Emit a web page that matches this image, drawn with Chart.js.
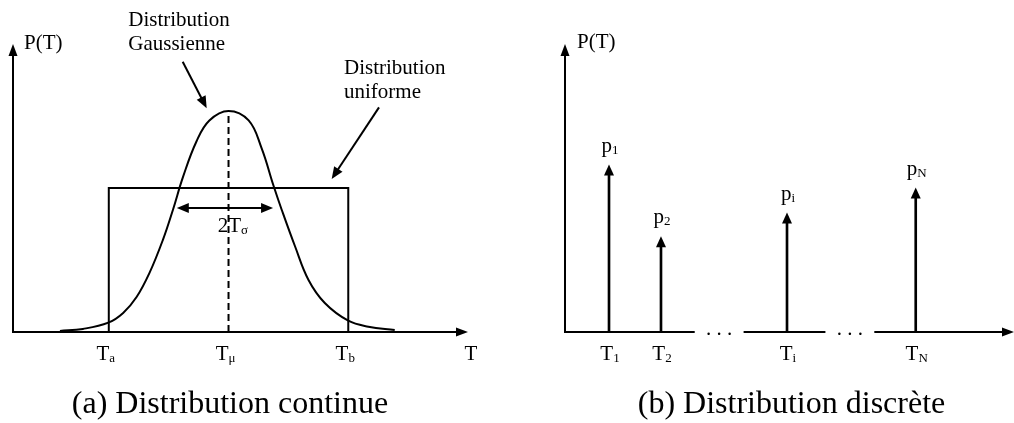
<!DOCTYPE html>
<html>
<head>
<meta charset="utf-8">
<script src="https://cdn.jsdelivr.net/npm/chart.js@4"></script>
<style>
  body { margin: 0; background: #fff; }
  #wrap { position: relative; width: 1014px; height: 423px; }
  canvas { position: absolute; top: 0; }
</style>
</head>
<body>
<div id="wrap">
  <canvas id="continuousChart" width="500" height="423" style="left:0"></canvas>
  <canvas id="discreteChart" width="514" height="423" style="left:500px"></canvas>
</div>
<script>
// (a) continuous distribution, T in units of T_sigma around T_mu
const gaussT = [-3.52, -3.04, -2.51, -2.20, -1.92, -1.65, -1.37, -1.16, -0.95, -0.67, -0.40, 0,
                0.42, 0.69, 0.94, 1.11, 1.39, 1.67, 2.01, 2.50, 2.92, 3.47];
const gaussP = [0.005, 0.014, 0.042, 0.086, 0.158, 0.267, 0.416, 0.552, 0.700, 0.860, 0.955, 0.998,
                0.955, 0.830, 0.660, 0.552, 0.386, 0.235, 0.131, 0.051, 0.024, 0.009];
const uniformT = [-2.5, -2.5, 2.5, 2.5];
const uniformP = [0, 0.65, 0.65, 0];
const contTicks = [-2.5, 0, 2.5];
const contTickSubs = ["a", "\u03bc", "b"];
const sigmaSpan = [-1.08, 0.93];

// (b) discrete distribution
const discreteT = [4.41, 9.62, 22.25, 35.15];
const discreteP = [0.756, 0.432, 0.539, 0.652];
const discreteSubs = ["1", "2", "i", "N"];
const axisGaps = [[13.0, 17.9], [26.1, 31.0]];

const SERIF = '"Liberation Serif", "Times New Roman", serif';
const font = size => size + "px " + SERIF;

function arrowHead(ctx, x, y, angle, len, half) {
  ctx.save();
  ctx.translate(x, y);
  ctx.rotate(angle);
  ctx.beginPath();
  ctx.moveTo(0, 0);
  ctx.lineTo(-len, -half);
  ctx.lineTo(-len, half);
  ctx.closePath();
  ctx.fill();
  ctx.restore();
}

function arrow(ctx, x1, y1, x2, y2, len = 12, half = 5) {
  const a = Math.atan2(y2 - y1, x2 - x1);
  ctx.beginPath();
  ctx.moveTo(x1, y1);
  ctx.lineTo(x2 - Math.cos(a) * (len - 1), y2 - Math.sin(a) * (len - 1));
  ctx.stroke();
  arrowHead(ctx, x2, y2, a, len, half);
}

function subText(ctx, main, sub, x, y, size, align) {
  const subSize = Math.round(size * 0.62);
  ctx.font = font(size);
  const w1 = ctx.measureText(main).width;
  ctx.font = font(subSize);
  const w2 = ctx.measureText(sub).width;
  const x0 = align === "left" ? x : x - (w1 + w2) / 2;
  ctx.textAlign = "left";
  ctx.textBaseline = "alphabetic";
  ctx.font = font(size);
  ctx.fillText(main, x0, y);
  ctx.font = font(subSize);
  ctx.fillText(sub, x0 + w1, y + 2);
}

function plainText(ctx, str, x, y, size, align) {
  ctx.font = font(size);
  ctx.textAlign = align || "left";
  ctx.textBaseline = "alphabetic";
  ctx.fillText(str, x, y);
}

const continuousDecor = {
  id: "continuousDecor",
  afterDatasetsDraw(chart) {
    const { ctx, chartArea: area, scales: { x, y } } = chart;
    const y0 = y.getPixelForValue(0);
    ctx.save();
    ctx.strokeStyle = "#000";
    ctx.fillStyle = "#000";
    ctx.lineWidth = 2;

    // axes
    ctx.beginPath();
    ctx.moveTo(area.left, y0);
    ctx.lineTo(area.right - 10, y0);
    ctx.moveTo(area.left, y0 + 1);
    ctx.lineTo(area.left, area.top + 10);
    ctx.stroke();
    arrowHead(ctx, area.right, y0, 0, 12, 4.5);
    arrowHead(ctx, area.left, area.top, -Math.PI / 2, 12, 4.5);

    // mean line
    const xm = x.getPixelForValue(0);
    ctx.setLineDash([7, 4]);
    ctx.beginPath();
    ctx.moveTo(xm, y0);
    ctx.lineTo(xm, y.getPixelForValue(Math.max(...gaussP)));
    ctx.stroke();
    ctx.setLineDash([]);

    // 2 T_sigma double arrow
    const ys = y.getPixelForValue(0.56);
    const xa = x.getPixelForValue(sigmaSpan[0]);
    const xb = x.getPixelForValue(sigmaSpan[1]);
    ctx.beginPath();
    ctx.moveTo(xa + 10, ys);
    ctx.lineTo(xb - 10, ys);
    ctx.stroke();
    arrowHead(ctx, xa, ys, Math.PI, 12, 5);
    arrowHead(ctx, xb, ys, 0, 12, 5);
    subText(ctx, "2T", "\u03c3", x.getPixelForValue(0.09), y.getPixelForValue(0.451), 21, "center");

    // annotation arrows
    arrow(ctx, x.getPixelForValue(-0.957), y.getPixelForValue(1.22),
               x.getPixelForValue(-0.456), y.getPixelForValue(1.01));
    arrow(ctx, x.getPixelForValue(3.142), y.getPixelForValue(1.014),
               x.getPixelForValue(2.154), y.getPixelForValue(0.691));
    plainText(ctx, "Distribution", x.getPixelForValue(-2.093), y.getPixelForValue(1.383), 21);
    plainText(ctx, "Gaussienne", x.getPixelForValue(-2.093), y.getPixelForValue(1.273), 21);
    plainText(ctx, "Distribution", x.getPixelForValue(2.411), y.getPixelForValue(1.165), 21);
    plainText(ctx, "uniforme", x.getPixelForValue(2.411), y.getPixelForValue(1.058), 21);

    // axis labels
    plainText(ctx, "P(T)", area.left + 11, area.top + 5, 21);
    contTicks.forEach((t, i) => {
      subText(ctx, "T", contTickSubs[i], x.getPixelForValue(t) - 3, y0 + 28, 21, "center");
    });
    plainText(ctx, "T", area.right + 3, y0 + 28, 21, "center");

    plainText(ctx, "(a) Distribution continue", 230, 413, 32, "center");
    ctx.restore();
  }
};

const discreteDecor = {
  id: "discreteDecor",
  afterDatasetsDraw(chart) {
    const { ctx, chartArea: area, scales: { x, y } } = chart;
    const y0 = y.getPixelForValue(0);
    ctx.save();
    ctx.strokeStyle = "#000";
    ctx.fillStyle = "#000";
    ctx.lineWidth = 2;

    // broken T axis
    const xs = [x.min];
    axisGaps.forEach(g => xs.push(g[0], g[1]));
    xs.push(x.max);
    ctx.beginPath();
    for (let i = 0; i < xs.length; i += 2) {
      ctx.moveTo(x.getPixelForValue(xs[i]), y0);
      ctx.lineTo(x.getPixelForValue(xs[i + 1]) - (i + 2 === xs.length ? 10 : 0), y0);
    }
    ctx.moveTo(area.left, y0 + 1);
    ctx.lineTo(area.left, area.top + 10);
    ctx.stroke();
    arrowHead(ctx, area.right, y0, 0, 12, 4.5);
    arrowHead(ctx, area.left, area.top, -Math.PI / 2, 12, 4.5);
    axisGaps.forEach(g => {
      plainText(ctx, ". . .", x.getPixelForValue((g[0] + g[1]) / 2), y0 + 3, 21, "center");
    });

    // stem arrowheads and labels
    discreteT.forEach((t, i) => {
      const px = x.getPixelForValue(t);
      const py = y.getPixelForValue(discreteP[i]);
      arrowHead(ctx, px, py, -Math.PI / 2, 11, 5);
      subText(ctx, "p", discreteSubs[i], px + 1, py - 13, 21, "center");
      subText(ctx, "T", discreteSubs[i], px + 1, y0 + 28, 21, "center");
    });

    plainText(ctx, "P(T)", area.left + 12, area.top + 4, 21);
    plainText(ctx, "(b) Distribution discr\u00e8te", 291.5, 413, 32, "center");
    ctx.restore();
  }
};

new Chart(document.getElementById("continuousChart"), {
  type: "line",
  data: {
    datasets: [
      {
        label: "Distribution Gaussienne",
        data: gaussT.map((t, i) => ({ x: t, y: gaussP[i] })),
        borderColor: "#000",
        borderWidth: 2,
        pointRadius: 0,
        tension: 0.4,
        fill: false,
        clip: false
      },
      {
        label: "Distribution uniforme",
        data: uniformT.map((t, i) => ({ x: t, y: uniformP[i] })),
        borderColor: "#000",
        borderWidth: 2,
        pointRadius: 0,
        tension: 0,
        fill: false,
        clip: false
      }
    ]
  },
  options: {
    responsive: false,
    animation: false,
    events: [],
    layout: { padding: { left: 13, right: 32, top: 44, bottom: 91 } },
    scales: {
      x: { type: "linear", display: false, min: -4.5, max: 5 },
      y: { display: false, min: 0, max: 1.3 }
    },
    plugins: { legend: { display: false }, tooltip: { enabled: false } }
  },
  plugins: [continuousDecor]
});

new Chart(document.getElementById("discreteChart"), {
  type: "bar",
  data: {
    datasets: [{
      label: "p",
      data: discreteT.map((t, i) => ({ x: t, y: discreteP[i] - 0.02 })),
      backgroundColor: "#000",
      barThickness: 2,
      borderWidth: 0
    }]
  },
  options: {
    responsive: false,
    animation: false,
    events: [],
    layout: { padding: { left: 65, right: 0, top: 44, bottom: 91 } },
    scales: {
      x: { type: "linear", display: false, offset: false, min: 0, max: 45 },
      y: { display: false, min: 0, max: 1.3 }
    },
    plugins: { legend: { display: false }, tooltip: { enabled: false } }
  },
  plugins: [discreteDecor]
});
</script>
</body>
</html>
